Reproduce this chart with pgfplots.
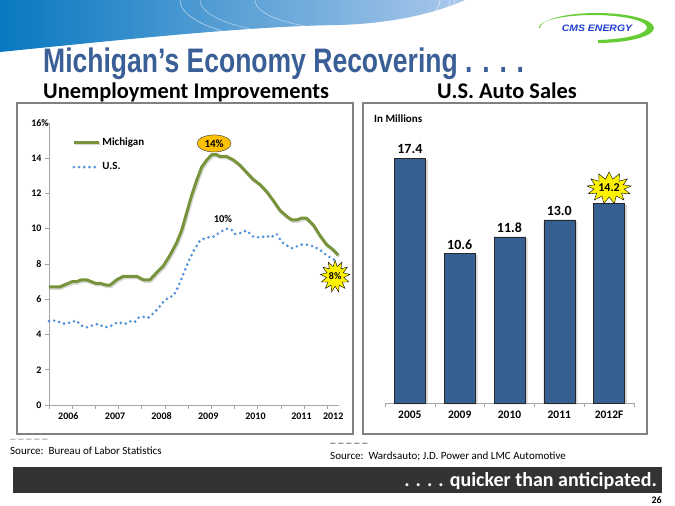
\documentclass[border=0pt]{standalone}
\usepackage{fontspec}
\setmainfont{Carlito}
\newfontfamily\arialfont{Liberation Sans}
\usepackage{graphicx}
\usepackage{pgfplots}
\pgfplotsset{compat=1.18}
\usetikzlibrary{shapes.symbols,shapes.geometric}
\definecolor{titleblue}{RGB}{58,95,150}
\definecolor{migreen}{RGB}{119,147,60}
\definecolor{usblue}{RGB}{79,143,219}
\definecolor{barblue}{RGB}{55,96,146}
\definecolor{framegray}{RGB}{128,128,128}
\definecolor{axisgray}{RGB}{165,165,165}
\definecolor{ovalorange}{RGB}{255,192,0}
\definecolor{darkbar}{RGB}{51,51,51}
\definecolor{logoblue}{RGB}{30,60,210}
\definecolor{logogreen}{RGB}{102,204,51}
\definecolor{hdrleft}{RGB}{8,120,192}
\definecolor{hdrright}{RGB}{170,200,235}
\begin{document}
\begin{tikzpicture}
\begin{scope}[x=1pt,y=1pt]
\useasboundingbox (0,0) rectangle (675,506);
\fill[white] (0,0) rectangle (675,506);
% header swoosh
\shade[left color=hdrleft, right color=hdrright] (0,506) -- (0,454) .. controls (120,466) and (250,480) .. (340,481) .. controls (400,483) and (440,495) .. (465,506) -- cycle;
\draw[white, opacity=0.7, line width=0.5pt] (180,506) arc[start angle=180, end angle=360, x radius=130, y radius=42];
\draw[white, opacity=0.6, line width=0.5pt] (200,506) arc[start angle=180, end angle=360, x radius=125, y radius=36];
\draw[white, opacity=0.6, line width=0.5pt] (255,506) arc[start angle=180, end angle=360, x radius=100, y radius=30];
% logo
\begin{scope}
\clip (530,478) -- (530,500) -- (665,500) -- (665,455) -- (598,455) -- (598,478) -- cycle;
\fill[logogreen, even odd rule] (597,478) ellipse [x radius=57, y radius=15] (593,478.5) ellipse [x radius=54, y radius=12.5];
\end{scope}
\node[text=logoblue, inner sep=0pt, font=\arialfont\bfseries\itshape\fontsize{11}{13}\selectfont] at (597,478) {\scalebox{0.95}[0.85]{CMS ENERGY}};
% title
\node[anchor=base west, inner sep=0pt, text=titleblue, font=\arialfont\bfseries\fontsize{34}{40}\selectfont] at (43,433) {\scalebox{0.78}[1]{Michigan’s Economy Recovering . . . .}};
\node[anchor=base west, inner sep=0pt, font=\bfseries\fontsize{22.4}{26}\selectfont] at (43,407) {Unemployment Improvements};
\node[anchor=base west, inner sep=0pt, font=\bfseries\fontsize{22.4}{26}\selectfont] at (437,407) {U.S. Auto Sales};
% frames
\draw[framegray, line width=1.2pt] (17,72) rectangle (353,403);
\draw[framegray, line width=1.2pt] (363,72) rectangle (647,403);
% sources
\node[anchor=base west, inner sep=0pt, text=gray, font=\fontsize{11}{13}\selectfont] at (10,67) {\_ \_ \_ \_ \_};
\node[anchor=base west, inner sep=0pt, font=\fontsize{11}{13}\selectfont] at (10,51) {Source:\ \ Bureau of Labor Statistics};
\node[anchor=base west, inner sep=0pt, text=black!80, font=\fontsize{11}{13}\selectfont] at (330,63) {\_ \_ \_ \_ \_};
\node[anchor=base west, inner sep=0pt, font=\fontsize{11}{13}\selectfont] at (330,46) {Source:\ \ Wardsauto; J.D. Power and LMC Automotive};
% bottom bar
\fill[darkbar] (13,13) rectangle (662,39);
\node[anchor=base east, inner sep=0pt, text=white, font=\bfseries\fontsize{20}{24}\selectfont] at (657,19) {. . . . quicker than anticipated.};
\node[anchor=base east, inner sep=0pt, font=\bfseries\fontsize{10}{12}\selectfont] at (662,2) {26};
\node[anchor=west, inner sep=0pt, font=\bfseries\fontsize{11}{13}\selectfont] at (374,387) {In Millions};
\end{scope}

% ---------- left chart ----------
\begin{axis}[
  at={(49pt,101pt)}, anchor=south west, scale only axis,
  width=290pt, height=282pt,
  xmin=0, xmax=75, ymin=0, ymax=16,
  axis x line*=bottom, axis y line*=left,
  axis line style={-, axisgray, line width=0.8pt},
  ytick={0,2,...,16}, yticklabels={0,2,4,6,8,10,12,14,16\rlap{\%}},
  xtick={5,17.1,29.1,41.2,53.4,65.3,73.5},
  xticklabels={2006,2007,2008,2009,2010,2011,2012},
  major x tick style={draw=none},
  minor xtick={0,6,...,72},
  tick align=outside,
  tick style={axisgray, line width=0.6pt},
  major tick length=4pt, minor tick length=4pt,
  ticklabel style={font=\bfseries\fontsize{10}{12}\selectfont},
  /pgf/number format/assume math mode=true,
  clip=false,
  legend style={at={(axis cs:6,15.3)}, anchor=north west, draw=none, fill=none,
    inner sep=0pt, row sep=12pt, font=\bfseries\fontsize{11}{13}\selectfont},
  legend cell align=left,
  legend image code/.code={\draw[#1] (0pt,0pt) -- (25pt,0pt);},
]
\addplot[migreen, line width=3pt, line join=round,
  preaction={draw=black!30, opacity=0.5, line width=3pt, transform canvas={xshift=1pt,yshift=-1.5pt}}] coordinates {
(0,6.7) (2.8,6.7) (6,7.0) (7.2,7.0) (8.4,7.1) (9.7,7.1) (12.1,6.9) (13.2,6.9)
(14.9,6.8) (15.8,6.8) (17.5,7.1) (19.2,7.3) (20.9,7.3) (22.7,7.3) (24.4,7.1)
(26.1,7.1) (27.8,7.5) (29.6,7.9) (31.3,8.5) (33,9.2) (34.3,9.9) (35.6,10.9)
(36.9,11.9) (38.2,12.75) (39.5,13.5) (40.8,13.9) (42.1,14.2) (43.4,14.2)
(44.2,14.1) (45.9,14.1) (47.7,13.9) (49.4,13.6) (51.1,13.2) (52.8,12.8)
(54.6,12.5) (56.3,12.1) (58,11.6) (59.7,11.05) (61.5,10.7) (62.8,10.5)
(64.1,10.5) (65.3,10.6) (66.6,10.6) (68.4,10.2) (70.1,9.6) (71.8,9.1)
(73.5,8.8) (74.8,8.5)};
\addlegendentry{Michigan}
\addplot[usblue, line width=2.9pt, line cap=round, dash pattern=on 0pt off 5.2pt] coordinates {
(0,4.76) (1.1,4.8) (2.8,4.7) (4.1,4.6) (5.9,4.7) (7.0,4.8) (8.4,4.5) (9.7,4.4)
(11,4.5) (12.7,4.6) (14.4,4.4) (16.1,4.5) (17.8,4.7) (19.7,4.6) (20.9,4.75)
(22.2,4.7) (23.1,4.95) (24.4,5.0) (25.7,4.95) (27,5.2) (28.3,5.5) (29.6,5.85)
(30.9,6.1) (32.2,6.2) (33.4,6.7) (34.7,7.4) (36,8.1) (37.3,8.7) (39.1,9.35)
(40.8,9.5) (42.5,9.55) (44.2,9.8) (45.9,10.0) (47.2,9.95) (48.1,9.7) (49.4,9.75)
(51.1,9.9) (52.8,9.55) (54.6,9.5) (56.3,9.6) (57.2,9.5) (58.9,9.7) (60.2,9.25)
(61.5,9.05) (62.8,8.9) (64.1,9.0) (65.3,9.1) (66.6,9.1) (68.4,9.0) (70.1,8.8)
(71.8,8.5) (73.5,8.25) (74.4,8.25)};
\addlegendentry{U.S.}
\node[ellipse, fill=ovalorange, draw=black!70, line width=0.5pt, minimum width=34pt,
  minimum height=17pt, inner sep=0pt, font=\bfseries\fontsize{11}{13}\selectfont]
  at (axis cs:42.7,14.84) {14\%};
\node[font=\bfseries\fontsize{10.5}{12}\selectfont] at (axis cs:45,10.55) {10\%};
\node[starburst, starburst points=13, random starburst=0, starburst point height=6pt,
  fill=yellow, draw=black, line width=0.4pt, minimum width=24pt, minimum height=32pt,
  inner sep=0pt, font=\bfseries\fontsize{10}{12}\selectfont]
  at (axis cs:74,7.3) {8\%};
\end{axis}

% ---------- right chart ----------
\begin{axis}[
  at={(385pt,103pt)}, anchor=south west, scale only axis,
  width=249pt, height=281.6pt,
  xmin=-0.5, xmax=4.5, ymin=0, ymax=20,
  axis x line*=bottom, axis y line=none,
  axis line style={-, axisgray, line width=0.8pt},
  xtick={0,1,2,3,4}, xticklabels={2005,2009,2010,2011,2012F},
  major x tick style={draw=none},
  minor xtick={-0.5,0.5,...,4.5},
  tick align=outside,
  tick style={axisgray, line width=0.6pt},
  minor tick length=4pt,
  ticklabel style={font=\bfseries\fontsize{11.5}{13}\selectfont},
  ybar, bar width=31pt, bar shift=0pt,
  clip=false,
  every axis plot/.append style={preaction={fill=black!35, draw=none, opacity=0.45,
    transform canvas={xshift=2.5pt,yshift=-1.5pt}}},
]
\addplot[fill=barblue, draw=black!85, line width=0.6pt,
  nodes near coords,
  nodes near coords style={font=\bfseries\fontsize{14}{16}\selectfont, black, yshift=1pt,
    /pgf/number format/.cd, fixed, fixed zerofill, precision=1, assume math mode=true}]
  coordinates {(0,17.4) (1,10.6) (2,11.8) (3,13.0)};
\addplot[fill=barblue, draw=black!85, line width=0.6pt] coordinates {(4,14.2)};
\node[starburst, starburst points=13, random starburst=0, starburst point height=7pt,
  fill=yellow, draw=black, line width=0.4pt, minimum width=36pt, minimum height=32pt,
  inner sep=0pt, font=\bfseries\fontsize{12}{14}\selectfont]
  at (axis cs:4,15.27) {14.2};
\end{axis}
\end{tikzpicture}
\end{document}
